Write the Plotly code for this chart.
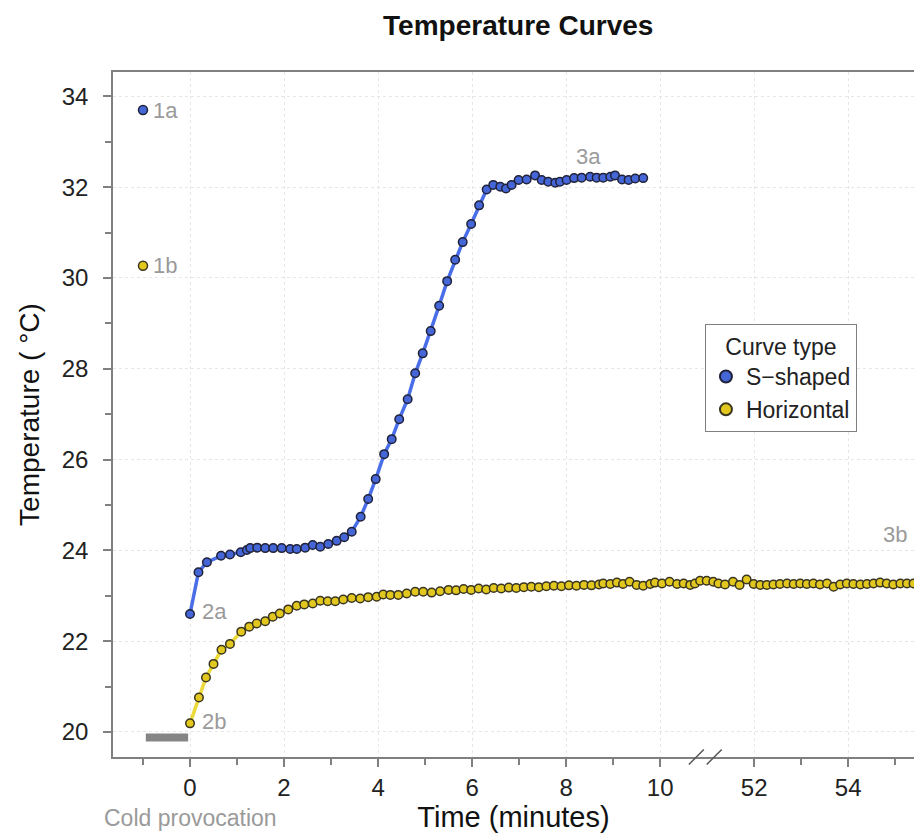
import plotly.graph_objects as go

# ---------------- data (minutes, °C) ----------------
baseline_time = [-1.0]
s_baseline = [33.70]          # 1a
h_baseline = [30.27]          # 1b

s_time = [0.00, 0.18, 0.36, 0.66, 0.85, 1.08, 1.21, 1.28, 1.43, 1.60, 1.77, 1.95,
          2.13, 2.27, 2.45, 2.61, 2.77, 2.94, 3.12, 3.28, 3.44, 3.63, 3.79, 3.95,
          4.13, 4.29, 4.45, 4.63, 4.79, 4.95, 5.12, 5.30, 5.47, 5.64, 5.80, 5.98,
          6.15, 6.31, 6.45, 6.60, 6.72, 6.84, 6.99, 7.16, 7.34, 7.48, 7.62, 7.77,
          7.87, 8.01, 8.17, 8.33, 8.51, 8.65, 8.79, 8.94, 9.04, 9.19, 9.33, 9.47, 9.64]
s_temp = [22.60, 23.52, 23.74, 23.88, 23.91, 23.96, 24.01, 24.05, 24.06, 24.05, 24.05, 24.05,
          24.03, 24.03, 24.06, 24.12, 24.08, 24.14, 24.21, 24.29, 24.41, 24.74, 25.13, 25.57,
          26.12, 26.45, 26.89, 27.33, 27.90, 28.34, 28.83, 29.39, 29.93, 30.40, 30.79, 31.19,
          31.60, 31.95, 32.05, 32.01, 31.97, 32.05, 32.16, 32.17, 32.26, 32.16, 32.12, 32.10,
          32.12, 32.16, 32.20, 32.21, 32.23, 32.21, 32.21, 32.23, 32.26, 32.17, 32.16, 32.19, 32.20]

h_time = [0.00, 0.19, 0.34, 0.50, 0.67, 0.85, 1.09, 1.26, 1.42, 1.60, 1.76, 1.91,
          2.09, 2.27, 2.43, 2.61, 2.77, 2.93, 3.09, 3.26, 3.44, 3.62, 3.79, 3.97,
          4.11, 4.26, 4.43, 4.61, 4.79, 4.96, 5.14, 5.32, 5.50, 5.66, 5.82, 5.98,
          6.14, 6.30, 6.46, 6.62, 6.78, 6.94, 7.10, 7.26, 7.42, 7.58, 7.74, 7.90,
          8.06, 8.22, 8.38, 8.54, 8.70, 8.79, 8.94, 9.08, 9.21, 9.35, 9.50, 9.64,
          9.79, 9.89, 10.04, 10.20, 10.36, 10.50, 10.64, 10.74, 10.85, 10.99,
          51.13, 51.24, 51.38, 51.55, 51.69, 51.84, 51.99, 52.13, 52.27, 52.41,
          52.55, 52.70, 52.84, 52.98, 53.12, 53.26, 53.40, 53.55, 53.69, 53.83,
          53.97, 54.11, 54.26, 54.40, 54.54, 54.68, 54.82, 54.96, 55.11, 55.25, 55.39]
h_temp = [20.19, 20.76, 21.20, 21.50, 21.81, 21.94, 22.21, 22.32, 22.39, 22.44, 22.54, 22.61,
          22.70, 22.78, 22.81, 22.83, 22.89, 22.88, 22.88, 22.92, 22.95, 22.94, 22.97, 22.98,
          23.03, 23.02, 23.02, 23.05, 23.09, 23.09, 23.07, 23.10, 23.13, 23.12, 23.15, 23.13,
          23.16, 23.14, 23.17, 23.16, 23.18, 23.17, 23.19, 23.20, 23.19, 23.21, 23.22, 23.21,
          23.23, 23.22, 23.24, 23.23, 23.25, 23.27, 23.26, 23.29, 23.26, 23.31, 23.24, 23.22,
          23.26, 23.29, 23.27, 23.31, 23.26, 23.27, 23.24, 23.27, 23.33, 23.33,
          23.31, 23.27, 23.25, 23.31, 23.24, 23.36, 23.26, 23.24, 23.24, 23.25,
          23.26, 23.27, 23.26, 23.27, 23.26, 23.27, 23.25, 23.27, 23.20, 23.25,
          23.27, 23.26, 23.25, 23.26, 23.27, 23.29, 23.27, 23.25, 23.27, 23.27, 23.27]

cold_start, cold_end, cold_level = -0.94, -0.04, 19.88

x_tick_minutes = [0, 2, 4, 6, 8, 10, 52, 54]
x_minor_minutes = [-1, 1, 3, 5, 7, 9, 53, 55]
BREAK_FROM, BREAK_TO = 11, 51   # axis break: 11 min continues as 51 min


def disp(t):
    return t if t <= BREAK_FROM else t - (BREAK_TO - BREAK_FROM)


FONT = "Liberation Sans, Arial, sans-serif"
BLUE_LINE = "#4a6ee8"
BLUE_FILL = "#4466d6"
YEL_LINE = "#ecd93a"
YEL_FILL = "#e2c81e"
EDGE = "#20223a"
YEDGE = "#3a3520"
GRAY_TXT = "#9a9a9a"

fig = go.Figure()

fig.add_trace(go.Scatter(
    x=[disp(t) for t in s_time], y=s_temp, mode="lines+markers",
    line=dict(color=BLUE_LINE, width=3.5),
    marker=dict(size=8.5, color=BLUE_FILL, line=dict(color=EDGE, width=1.5)),
    showlegend=False))
fig.add_trace(go.Scatter(
    x=[disp(t) for t in h_time], y=h_temp, mode="lines+markers",
    line=dict(color=YEL_LINE, width=3.5),
    marker=dict(size=8.5, color=YEL_FILL, line=dict(color=YEDGE, width=1.5)),
    showlegend=False))
fig.add_trace(go.Scatter(
    x=baseline_time, y=s_baseline, mode="markers",
    marker=dict(size=9, color=BLUE_FILL, line=dict(color=EDGE, width=1.5)),
    showlegend=False))
fig.add_trace(go.Scatter(
    x=baseline_time, y=h_baseline, mode="markers",
    marker=dict(size=9, color=YEL_FILL, line=dict(color=YEDGE, width=1.5)),
    showlegend=False))
# cold provocation bar
fig.add_trace(go.Scatter(
    x=[cold_start, cold_end], y=[cold_level, cold_level], mode="lines",
    line=dict(color="#858585", width=8), showlegend=False, hoverinfo="skip"))

# legend entries (markers only)
fig.add_trace(go.Scatter(x=[None], y=[None], mode="markers", name="S\u2212shaped",
                         marker=dict(size=10, color=BLUE_FILL, line=dict(color=EDGE, width=1.5))))
fig.add_trace(go.Scatter(x=[None], y=[None], mode="markers", name="Horizontal",
                         marker=dict(size=10, color=YEL_FILL, line=dict(color=YEDGE, width=1.5))))

ann_font = dict(family=FONT, size=22, color=GRAY_TXT)
labels = [
    (baseline_time[0], s_baseline[0], "1a", 8, 0),
    (baseline_time[0], h_baseline[0], "1b", 8, 0),
    (disp(s_time[0]), s_temp[0], "2a", 10, 2),
    (disp(h_time[0]), h_temp[0], "2b", 10, 2),
]
for x, y, txt, xs, ys in labels:
    fig.add_annotation(x=x, y=y, text=txt, showarrow=False, xanchor="left", yanchor="middle",
                       xshift=xs, yshift=ys, font=ann_font)
fig.add_annotation(x=8.47, y=32.67, text="3a", showarrow=False, font=ann_font)
fig.add_annotation(x=15.0, y=24.34, text="3b", showarrow=False, font=ann_font)
fig.add_annotation(x=0, y=0, yref="paper", text="Cold provocation", showarrow=False,
                   yanchor="middle", yshift=-61, font=dict(family=FONT, size=23, color=GRAY_TXT))

# axis break marks (display coordinates)
for xa in [10.77, 11.15]:
    fig.add_shape(type="line", xref="x", yref="paper", xsizemode="pixel", ysizemode="pixel",
                  xanchor=xa, yanchor=0, x0=-7.5, x1=7.5, y0=-7.5, y1=7.5,
                  line=dict(color="#555555", width=1.5))

fig.update_layout(
    width=914, height=839,
    margin=dict(l=113, r=0, t=72, b=82),
    plot_bgcolor="white", paper_bgcolor="white",
    font=dict(family=FONT, size=22, color="#222222"),
    title=dict(text="<b>Temperature Curves</b>", x=0.567, xanchor="center", y=0.97,
               yanchor="middle", font=dict(family=FONT, size=28, color="#111111")),
    legend=dict(title=dict(text="Curve type", side="top center", font=dict(size=23)),
                x=0.739, y=0.632, xanchor="left", yanchor="top",
                bordercolor="#808080", borderwidth=1, bgcolor="white",
                font=dict(family=FONT, size=23, color="#222222"),
                itemsizing="constant"),
    xaxis=dict(range=[-1.638, 15.40], showline=True, linecolor="#808080", linewidth=1.5,
               mirror=True, ticks="outside", ticklen=8, tickcolor="#808080", tickwidth=1.5,
               tickvals=[disp(t) for t in x_tick_minutes],
               ticktext=[str(t) for t in x_tick_minutes],
               minor=dict(tickvals=[disp(t) for t in x_minor_minutes], ticks="outside",
                          ticklen=6, tickcolor="#808080", showgrid=False),
               showgrid=True, gridcolor="#e6e6e6", griddash="dot", gridwidth=1,
               zeroline=False, tickfont=dict(size=24, color="#222222"),
               title=dict(text="Time (minutes)", font=dict(size=29, color="#111111"), standoff=5)),
    yaxis=dict(range=[19.449, 34.537], showline=True, linecolor="#808080", linewidth=1.5,
               ticks="outside", ticklen=8, tickcolor="#808080", tickwidth=1.5,
               tick0=20, dtick=2, ticklabelstandoff=10,
               minor=dict(dtick=1, ticks="outside", ticklen=6, tickcolor="#808080", showgrid=False),
               showgrid=True, gridcolor="#e6e6e6", griddash="dot", gridwidth=1,
               zeroline=False, tickfont=dict(size=24, color="#222222"),
               title=dict(text="Temperature ( \u00b0C)", font=dict(size=28, color="#111111"), standoff=14)),
)

fig.write_html("out.html")
